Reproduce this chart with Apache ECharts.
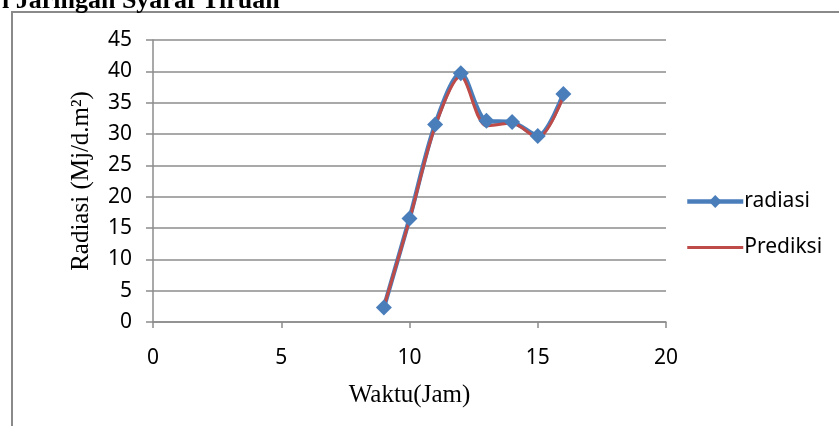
<!DOCTYPE html>
<html>
<head>
<meta charset="utf-8">
<script src="https://cdn.jsdelivr.net/npm/echarts@6/dist/echarts.min.js"></script>
<style>
html,body{margin:0;padding:0;background:#fff;}
#c{width:839px;height:426px;}
</style>
</head>
<body>
<div id="c"></div>
<script>
var hours = [9, 10, 11, 12, 13, 14, 15, 16];
var radiasi = [2.3, 16.5, 31.5, 39.7, 32.1, 31.9, 29.7, 36.4];
var prediksi = [2.4, 16.3, 31.2, 39.2, 31.3, 31.7, 29.4, 36.0];

var chart = echarts.init(document.getElementById('c'));
var gridColor = '#8c8c8c';
var labelFont = 'Noto Sans';
chart.setOption({
  animation: false,
  backgroundColor: '#fff',
  graphic: [
    { type: 'line', shape: { x1: 12, y1: 11, x2: 12, y2: 426 }, style: { stroke: '#8a8a8a', lineWidth: 2 } },
    { type: 'line', shape: { x1: 11, y1: 12, x2: 839, y2: 12 }, style: { stroke: '#8a8a8a', lineWidth: 2 } },
    { type: 'text', left: 2, top: -12, style: { text: 'i Jaringan Syaraf Tiruan', font: 'bold 26px "Liberation Serif", serif', fill: '#000' } }
  ],
  grid: { left: 153, right: 173, top: 40, bottom: 104 },
  legend: {
    orient: 'vertical', left: 680, top: 186, itemGap: 25, itemWidth: 56, itemHeight: 16,
    textStyle: { fontFamily: labelFont, fontSize: 21, color: '#000', padding: [0, 0, 0, -4] },
    data: [
      { name: 'radiasi', lineStyle: { width: 4.5 } },
      { name: 'Prediksi', itemStyle: { opacity: 0 }, lineStyle: { width: 3 } }
    ]
  },
  xAxis: {
    type: 'value', min: 0, max: 20, interval: 5,
    name: 'Waktu(Jam)', nameLocation: 'middle', nameGap: 61,
    nameTextStyle: { fontFamily: 'Liberation Serif', fontSize: 25, color: '#000' },
    axisLine: { show: true, onZero: false, lineStyle: { color: gridColor, width: 1.5 } },
    axisTick: { show: true, length: 6, lineStyle: { color: gridColor, width: 1.5 } },
    axisLabel: { fontFamily: labelFont, fontSize: 21, color: '#000', margin: 26 },
    splitLine: { show: false }
  },
  yAxis: {
    type: 'value', min: 0, max: 45, interval: 5,
    name: 'Radiasi (Mj/d.m²)', nameLocation: 'middle', nameGap: 59, nameRotate: 90,
    nameTextStyle: { fontFamily: 'Liberation Serif', fontSize: 25, color: '#000' },
    axisLine: { show: true, lineStyle: { color: gridColor, width: 1.5 } },
    axisTick: { show: true, length: 7, lineStyle: { color: gridColor, width: 1.5 } },
    axisLabel: { fontFamily: labelFont, fontSize: 21, color: '#000', margin: 21 },
    splitLine: { show: true, lineStyle: { color: gridColor, width: 1.5 } }
  },
  series: [
    {
      name: 'radiasi', type: 'line', smooth: 0.3,
      data: hours.map(function (h, i) { return [h, radiasi[i]]; }),
      symbol: 'diamond', symbolSize: 16,
      itemStyle: { color: '#4A7EBB' },
      lineStyle: { color: '#4A7EBB', width: 4.5 }
    },
    {
      name: 'Prediksi', type: 'line', smooth: 0.3,
      data: hours.map(function (h, i) { return [h, prediksi[i]]; }),
      symbol: 'none',
      itemStyle: { color: '#BE4B48' },
      lineStyle: { color: '#BE4B48', width: 3 }
    }
  ]
});
</script>
</body>
</html>
